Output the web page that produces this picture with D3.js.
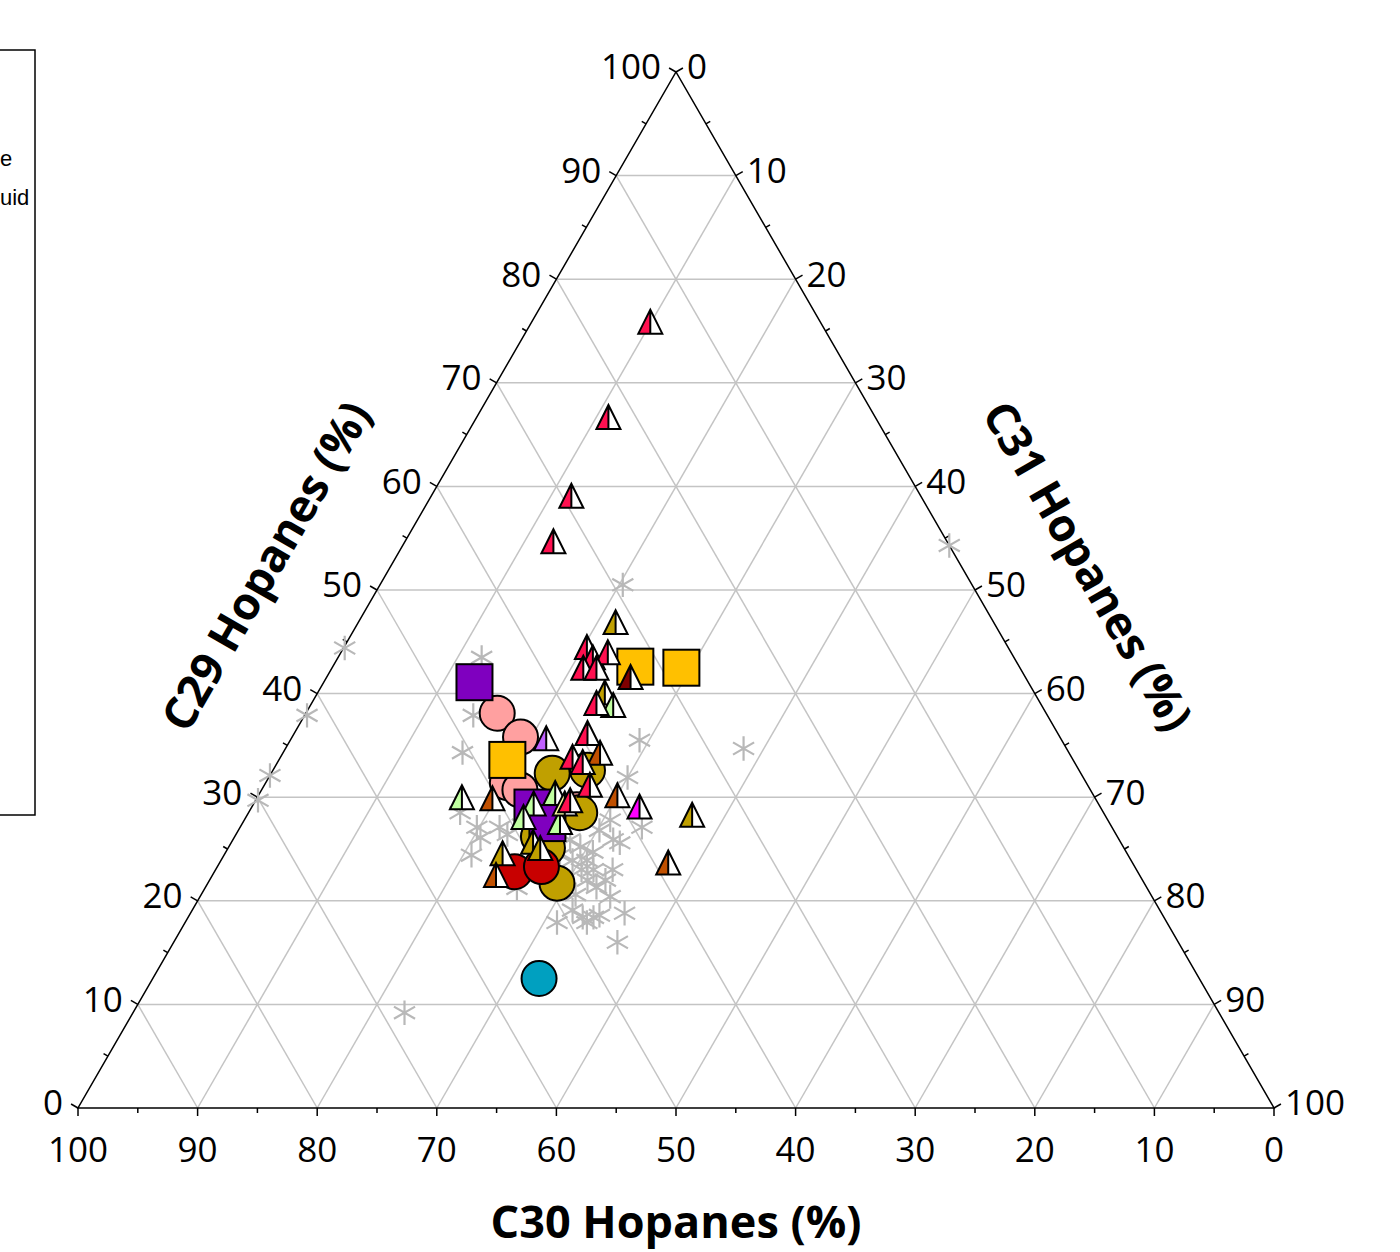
<!DOCTYPE html>
<html lang="en">
<head>
<meta charset="UTF-8">
<title>Hopanes ternary</title>
<script src="https://cdnjs.cloudflare.com/ajax/libs/d3/7.8.5/d3.min.js"></script>
<style>
body { margin: 0; background: #fff; }
svg { display: block; }
.tick-label { font: 35px "Open Sans", sans-serif; fill: #000; }
.axis-title { font: bold 45px "Open Sans", sans-serif; fill: #000; }
.grid { stroke: #c4c4c4; stroke-width: 1.5px; fill: none; }
</style>
</head>
<body>
<div id="chart"></div>
<script>
// each point: [C30, C29, C31] in %
const greyStars = [
  [55.5, 44.4, 0.1], [61.9, 37.9, 0.2], [67.9, 32.1, 0], [70.1, 29.7, 0.2], [0, 54.3, 45.7],
  [27.0, 34.7, 38.3], [29.2, 50.5, 20.3], [68.1, 9.2, 22.7], [44.5, 43.5, 12.0], [50.7, 34.3, 15.0],
  [48.0, 37.9, 14.1], [35.3, 35.5, 29.2], [38.1, 31.9, 30.0], [53.8, 28.5, 17.7], [53.1, 27.1, 19.8],
  [53.3, 26.1, 20.6], [54.9, 24.4, 20.7], [51.2, 27.1, 21.7], [50.9, 26.4, 22.7], [49.2, 27.3, 23.5],
  [45.9, 25.9, 28.2], [45.4, 25.2, 29.4], [44.6, 24.7, 30.7], [46.7, 23.9, 29.4], [45.5, 23.9, 30.6],
  [46.4, 23.0, 30.6], [45.4, 23.0, 31.6], [46.4, 22.0, 31.6], [46.0, 21.3, 32.7], [43.8, 23.0, 33.2],
  [42.3, 25.9, 31.8], [41.9, 25.6, 32.5], [41.6, 27.8, 30.6], [39.3, 27.1, 33.6], [45.3, 20.4, 34.3],
  [49.1, 19.1, 31.8], [48.6, 18.4, 33.0], [47.7, 18.4, 33.9], [47.1, 18.6, 34.3], [48.5, 17.9, 33.6],
  [44.9, 18.8, 36.3], [51.0, 17.9, 31.1], [46.9, 16.0, 37.1], [52.7, 21.2, 26.1], [47.5, 24.4, 28.1],
  [43.0, 26.8, 30.2], [48.1, 20.6, 31.3], [44.9, 22.0, 33.1]
];

const crimsonTri = [
  [14.2, 75.9, 9.9], [22.3, 66.7, 11.0], [29.2, 59.1, 11.7], [32.9, 54.7, 12.4], [35.2, 44.5, 20.3],
  [35.2, 43.5, 21.3], [33.7, 44.0, 22.3], [36.5, 42.5, 21.0], [35.4, 42.5, 22.1], [37.1, 39.1, 23.8],
  [39.3, 36.2, 24.5], [41.7, 33.9, 24.4], [41.1, 33.4, 25.5], [41.6, 31.2, 27.2], [44.0, 29.7, 26.3]
];
const goldTri = [
  [31.6, 46.9, 21.5], [35.9, 40.1, 24.0], [34.5, 28.3, 37.2], [52.2, 24.6, 23.2], [49.1, 25.7, 25.2],
  [48.8, 25.1, 26.1]
];
const rustTri = [
  [39.2, 34.3, 26.5], [39.8, 30.2, 30.0], [50.4, 29.9, 19.7], [38.8, 23.7, 37.5], [53.8, 22.5, 23.7]
];
const mintTri = [
  [35.8, 38.9, 25.3], [52.9, 30.0, 17.1], [47.2, 29.4, 23.4], [48.7, 28.1, 23.2], [44.9, 30.4, 24.7],
  [45.9, 27.6, 26.5]
];
const violetTri = [[43.0, 35.7, 21.3]];
const magentaTri = [[38.5, 29.1, 32.4]];
const maroonTri = [[33.0, 41.6, 25.4]];
const creamTri = [[44.6, 29.4, 26.0]];

const pinkCircles = [[45.9, 38.1, 16.0], [45.1, 35.8, 19.1], [48.4, 31.4, 20.2], [47.7, 30.7, 21.6], [43.9, 28.8, 27.3]];
const oliveCircles = [[44.2, 32.3, 23.5], [41.1, 32.6, 26.3], [43.8, 28.5, 27.7], [48.4, 26.2, 25.4], [48.2, 25.1, 26.7], [49.1, 21.7, 29.2]];
const redCircles = [[52.1, 22.8, 25.1], [49.6, 23.3, 27.1]];
const tealCircles = [[55.2, 12.5, 32.3]];

const purpleSquares = [[46.3, 41.1, 12.6], [47.5, 29.0, 23.5], [47.0, 27.5, 25.5]];
const amberSquares = [[32.1, 42.6, 25.3], [28.3, 42.5, 29.2], [47.3, 33.6, 19.1]];

// the legend sits mostly beyond the left edge; only these line ends show
const legendTails = ['e', 'uid'];

const ticks = d3.range(0, 101, 10);
const minorTicks = d3.range(5, 100, 10);

const W = 1400, H = 1252;
const BL = [78, 1108], BR = [1274, 1108], TOP = [676, 72];
const side = BR[0] - BL[0];

// C29 -> height, C31 -> distance along base
const yS = d3.scaleLinear().domain([0, 100]).range([BL[1], TOP[1]]);
const lenS = d3.scaleLinear().domain([0, 100]).range([0, side]);

function proj(p) {
  const s = p[0] + p[1] + p[2];
  const c29 = p[1] / s * 100, c31 = p[2] / s * 100;
  return [BL[0] + lenS(c31) + lenS(c29) / 2, yS(c29)];
}

const svg = d3.select('#chart').append('svg')
  .attr('width', W).attr('height', H);

// legend box
svg.append('rect')
  .attr('x', -20).attr('y', 50).attr('width', 55).attr('height', 765)
  .attr('fill', 'none').attr('stroke', '#000').attr('stroke-width', 1.5);
svg.selectAll('text.leg').data(legendTails).join('text')
  .attr('class', 'leg')
  .attr('x', 0).attr('y', (d, i) => 166 + i * 39)
  .style('font', '22px "Liberation Sans", Arial, sans-serif')
  .text(d => d);

// grid
const grid = svg.append('g');
ticks.slice(1, -1).forEach(k => {
  const r = 100 - k;
  grid.append('path').attr('class', 'grid')
    .attr('d', d3.line()([proj([r, k, 0]), proj([0, k, r])]));
  grid.append('path').attr('class', 'grid')
    .attr('d', d3.line()([proj([k, 0, r]), proj([k, r, 0])]));
  grid.append('path').attr('class', 'grid')
    .attr('d', d3.line()([proj([r, 0, k]), proj([0, r, k])]));
});

// frame
svg.append('path')
  .attr('d', d3.line()([BL, BR, TOP]) + 'Z')
  .attr('fill', 'none').attr('stroke', '#000').attr('stroke-width', 1.5);

// ticks
const tk = svg.append('g').attr('stroke', '#000').attr('stroke-width', 1.5);
const nL = [-Math.cos(Math.PI / 6), -0.5], nR = [Math.cos(Math.PI / 6), -0.5], nB = [0, 1];
function tickAt(pt, n, len) {
  tk.append('line').attr('x1', pt[0]).attr('y1', pt[1])
    .attr('x2', pt[0] + n[0] * len).attr('y2', pt[1] + n[1] * len);
}
ticks.forEach(k => {
  tickAt(proj([100 - k, k, 0]), nL, 8);
  tickAt(proj([0, 100 - k, k]), nR, 8);
  tickAt(proj([k, 0, 100 - k]), nB, 8);
});
minorTicks.forEach(k => {
  tickAt(proj([100 - k, k, 0]), nL, 5);
  tickAt(proj([0, 100 - k, k]), nR, 5);
  tickAt(proj([k, 0, 100 - k]), nB, 5);
});

// tick labels
const lab = svg.append('g');
ticks.forEach(k => {
  let p = proj([100 - k, k, 0]);
  lab.append('text').attr('class', 'tick-label')
    .attr('x', p[0] - 15).attr('y', p[1] - 2)
    .attr('text-anchor', 'end').attr('dominant-baseline', 'middle').text(k);
  p = proj([0, 100 - k, k]);
  lab.append('text').attr('class', 'tick-label')
    .attr('x', p[0] + 11).attr('y', p[1] - 2)
    .attr('dominant-baseline', 'middle').text(k);
  p = proj([k, 0, 100 - k]);
  lab.append('text').attr('class', 'tick-label')
    .attr('x', p[0]).attr('y', p[1] + 54)
    .attr('text-anchor', 'middle').text(k);
});

// axis titles
svg.append('text').attr('class', 'axis-title')
  .attr('transform', 'translate(676,1238)')
  .attr('text-anchor', 'middle').text('C30 Hopanes (%)');
svg.append('text').attr('class', 'axis-title')
  .attr('transform', 'translate(280,574) rotate(-60)')
  .attr('text-anchor', 'middle').text('C29 Hopanes (%)');
svg.append('text').attr('class', 'axis-title')
  .attr('transform', 'translate(1074,574) rotate(60)')
  .attr('text-anchor', 'middle').text('C31 Hopanes (%)');

// markers
const marks = svg.append('g');
const star = d3.symbol().type(d3.symbolAsterisk).size(420);
marks.selectAll('path.star').data(greyStars).join('path')
  .attr('class', 'star')
  .attr('transform', d => 'translate(' + proj(d) + ')')
  .attr('d', star)
  .attr('fill', 'none').attr('stroke', '#b8b8b8').attr('stroke-width', 2.2);

function circles(data, color) {
  marks.append('g').selectAll('circle').data(data).join('circle')
    .attr('cx', d => proj(d)[0]).attr('cy', d => proj(d)[1]).attr('r', 17.5)
    .attr('fill', color).attr('stroke', '#000').attr('stroke-width', 2);
}
function squares(data, color) {
  const s = 36;
  marks.append('g').selectAll('rect').data(data).join('rect')
    .attr('x', d => proj(d)[0] - s / 2).attr('y', d => proj(d)[1] - s / 2)
    .attr('width', s).attr('height', s)
    .attr('fill', color).attr('stroke', '#000').attr('stroke-width', 2);
}
function halfTris(data, color) {
  const w = 24, h = 24;
  const g = marks.append('g').selectAll('g').data(data).join('g')
    .attr('transform', d => 'translate(' + proj(d) + ')');
  g.append('path')
    .attr('d', `M0,${-h / 2}L${w / 2},${h / 2}L${-w / 2},${h / 2}Z`)
    .attr('fill', '#fff');
  g.append('path')
    .attr('d', `M0,${-h / 2}L0,${h / 2}L${-w / 2},${h / 2}Z`)
    .attr('fill', color);
  g.append('path')
    .attr('d', `M0,${-h / 2}L${w / 2},${h / 2}L${-w / 2},${h / 2}ZM0,${-h / 2}L0,${h / 2}`)
    .attr('fill', 'none').attr('stroke', '#000').attr('stroke-width', 2);
}

circles(pinkCircles, '#ffa0a0');
circles(oliveCircles, '#c0a000');
circles(redCircles, '#c80000');
circles(tealCircles, '#00a0c0');
squares(purpleSquares, '#7f00bf');
squares(amberSquares, '#ffc000');
halfTris(goldTri, '#c0a000');
halfTris(rustTri, '#c05000');
halfTris(mintTri, '#c0ffa0');
halfTris(violetTri, '#c060ff');
halfTris(magentaTri, '#ff00ff');
halfTris(maroonTri, '#800000');
halfTris(creamTri, '#ffffa0');
halfTris(crimsonTri, '#ff1050');
</script>
</body>
</html>
